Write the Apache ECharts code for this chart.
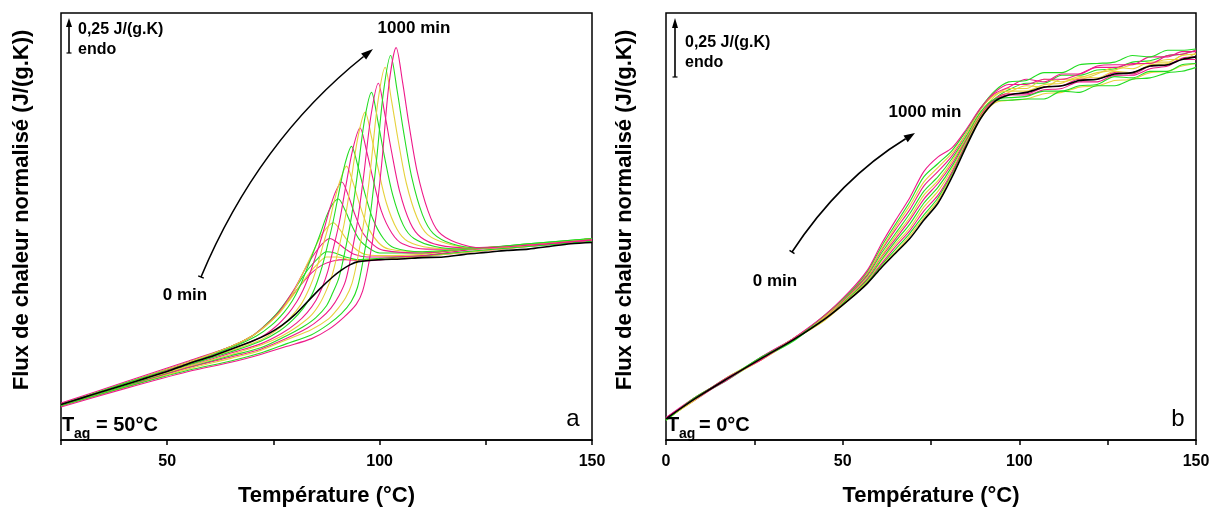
<!DOCTYPE html>
<html><head><meta charset="utf-8">
<script src="https://cdn.jsdelivr.net/npm/echarts@6/dist/echarts.min.js"></script>
<style>html,body{margin:0;padding:0;background:#fff}#c{width:1218px;height:512px}</style>
</head><body><div id="c"></div>
<script>
// ---------- DATA (panel a : Tag = 50°C) ----------
const leftBlack = [[25,.27],[30,.32],[35,.37],[40,.42],[45,.47],[50,.52],[55,.58],[60,.63],[65,.69],[70,.75],[74,.81],[77,.87],[80,.95],[83,1.05],[86,1.15],[89,1.24],[91,1.29],[93,1.33],[95,1.355],[100,1.37],[105,1.375],[110,1.385],[115,1.39],[120,1.41],[125,1.425],[130,1.44],[135,1.45],[140,1.47],[145,1.49],[150,1.50]];
const leftC1 = [[25,.28],[40,.44],[55,.60],[65,.71],[70,.79],[73.5,.88],[76.5,.98],[79,1.08],[81.5,1.18],[84,1.27],[86.5,1.33],[89,1.36],[92,1.37],[96,1.36],[105,1.38],[115,1.41],[125,1.44],[135,1.47],[150,1.51]];
const leftC2 = [[25,.27],[40,.43],[55,.59],[65,.71],[70,.79],[73,.86],[76,.95],[78.5,1.05],[81,1.16],[83.5,1.27],[85.5,1.34],[87.5,1.39],[90,1.39],[93,1.37],[97,1.37],[105,1.38],[115,1.41],[125,1.44],[135,1.47],[150,1.52]];
const leftC3 = [[25,.27],[40,.43],[55,.59],[65,.71],[70,.79],[73,.87],[75.5,.95],[77.5,1.03],[79.5,1.12],[81.5,1.22],[83.5,1.31],[85.5,1.38],[87.5,1.43],[89.5,1.42],[92,1.39],[95,1.37],[100,1.38],[110,1.40],[120,1.43],[135,1.47],[150,1.51]];
const leftC4 = [[25,.27],[40,.43],[55,.59],[65,.71],[70,.79],[73.5,.88],[76,.96],[78,1.05],[80,1.15],[81.5,1.24],[83,1.33],[84.8,1.42],[86.5,1.49],[88.3,1.53],[90,1.50],[92,1.45],[94,1.41],[97,1.39],[100,1.39],[110,1.40],[120,1.44],[135,1.48],[150,1.52]];
const leftC5 = [[25,.27],[40,.43],[55,.59],[65,.71],[70.5,.80],[74,.89],[76.5,.97],[78.5,1.06],[80,1.14],[81.5,1.24],[83,1.34],[84.5,1.44],[86,1.54],[87.5,1.61],[89.1,1.65],[90.6,1.60],[92.1,1.53],[94,1.46],[96.5,1.41],[100,1.40],[110,1.41],[120,1.45],[135,1.48],[150,1.52]];
const leftC6 = [[25,.27],[40,.43],[55,.58],[65,.70],[71,.79],[74.5,.87],[77.5,.97],[79.5,1.06],[81,1.15],[82.3,1.25],[83.5,1.35],[84.8,1.46],[86.2,1.58],[87.5,1.70],[88.9,1.79],[90.3,1.83],[91.8,1.75],[93.3,1.64],[95.3,1.52],[97.8,1.45],[100,1.42],[110,1.42],[120,1.45],[135,1.48],[150,1.53]];
const leftC7 = [[25,.27],[40,.42],[55,.58],[65,.69],[72,.78],[75.5,.86],[78.5,.96],[80.5,1.05],[82,1.14],[83.3,1.24],[84.5,1.35],[85.7,1.47],[87,1.61],[88.3,1.76],[89.7,1.89],[91.1,1.96],[92.6,1.86],[94.1,1.72],[96.1,1.57],[98.6,1.48],[101,1.44],[110,1.42],[120,1.45],[135,1.48],[150,1.52]];
const leftC8 = [[25,.27],[40,.42],[55,.57],[65,.68],[72,.76],[76,.84],[79,.93],[81.5,1.03],[83,1.12],[84.3,1.22],[85.5,1.34],[86.6,1.47],[88,1.63],[89.3,1.81],[90.8,1.98],[92.2,2.08],[93.7,1.96],[95.2,1.80],[97.2,1.62],[99.7,1.50],[102.2,1.45],[110,1.43],[120,1.45],[135,1.48],[150,1.53]];
const leftC9 = [[25,.27],[40,.42],[55,.57],[65,.67],[72,.75],[76.5,.83],[79.5,.91],[82,1.0],[84,1.10],[85.3,1.20],[86.5,1.32],[87.6,1.46],[89,1.65],[90.3,1.86],[91.8,2.09],[93.4,2.23],[94.9,2.08],[96.4,1.89],[98.4,1.68],[100.9,1.53],[103.4,1.46],[110,1.43],[120,1.45],[135,1.48],[150,1.52]];
const leftC10 = [[25,.27],[40,.41],[55,.56],[65,.66],[72,.73],[77,.81],[80.5,.89],[83,.97],[85,1.06],[86.5,1.16],[87.8,1.28],[89,1.44],[90.5,1.65],[92,1.92],[93.7,2.21],[95.4,2.37],[96.9,2.20],[98.4,1.99],[100.4,1.74],[102.9,1.57],[105.4,1.49],[111,1.45],[120,1.45],[135,1.48],[150,1.53]];
const leftC11 = [[25,.26],[40,.41],[55,.56],[65,.65],[72,.72],[77,.79],[81,.87],[84,.95],[86,1.04],[87.5,1.14],[88.9,1.26],[90.2,1.43],[91.7,1.65],[93.2,1.95],[94.9,2.30],[96.6,2.49],[98.1,2.30],[99.6,2.07],[101.6,1.80],[104.1,1.60],[106.6,1.51],[112,1.46],[120,1.45],[135,1.48],[150,1.52]];
const leftC12 = [[25,.26],[40,.41],[55,.55],[65,.64],[72,.70],[78,.79],[82,.86],[85,.93],[87.5,1.02],[89,1.12],[90.4,1.23],[91.7,1.41],[93.2,1.66],[94.7,2.00],[96.4,2.42],[98.1,2.64],[99.6,2.42],[101.1,2.16],[103.1,1.86],[105.6,1.63],[108.1,1.53],[113,1.47],[120,1.45],[135,1.49],[150,1.53]];
const leftC13 = [[25,.26],[40,.40],[55,.55],[65,.63],[72,.69],[78,.77],[83,.85],[86,.92],[88.5,1.0],[90.5,1.10],[92,1.21],[93.3,1.40],[94.8,1.66],[96.3,2.02],[98,2.47],[99.7,2.71],[101.2,2.48],[102.7,2.21],[104.7,1.89],[107.2,1.65],[109.7,1.54],[114,1.48],[121,1.46],[135,1.48],[150,1.52]];
const leftC14 = [[25,.26],[40,.40],[55,.54],[65,.62],[72,.68],[78,.76],[84,.84],[88,.92],[90,.99],[92,1.08],[93.5,1.19],[94.9,1.39],[96.4,1.68],[97.9,2.07],[99.6,2.57],[101.3,2.83],[102.8,2.58],[104.3,2.29],[106.3,1.95],[108.8,1.69],[111.3,1.56],[116,1.49],[122,1.46],[135,1.48],[150,1.53]];
const leftC15 = [[25,.26],[40,.40],[55,.53],[65,.60],[72,.66],[78,.73],[84,.80],[88,.88],[91,.96],[93.3,1.05],[94.8,1.16],[96.2,1.38],[97.7,1.68],[99.2,2.10],[100.9,2.64],[102.6,2.92],[104.1,2.66],[105.6,2.35],[107.6,1.99],[110.1,1.71],[112.6,1.57],[117,1.49],[123,1.46],[135,1.49],[150,1.53]];
const leftC16 = [[25,.25],[40,.39],[55,.52],[65,.59],[72,.65],[78,.71],[84,.77],[88,.84],[91.5,.93],[94.5,1.03],[96,1.13],[97.5,1.35],[99,1.66],[100.5,2.10],[102.2,2.70],[103.9,2.98],[105.4,2.72],[106.9,2.40],[108.9,2.03],[111.4,1.74],[113.9,1.58],[118,1.50],[124,1.46],[135,1.48],[150,1.52]];
const leftAged = [leftC1,leftC2,leftC3,leftC4,leftC5,leftC6,leftC7,leftC8,leftC9,leftC10,leftC11,leftC12,leftC13,leftC14,leftC15,leftC16];
const leftColorKeys = ['P','Y','G','P','Y','G','P','Y','G','P','Y','G','P','Y','G','P'];

// ---------- DATA (panel b : Tag = 0°C) ----------
const rightTemps = [0,8,17,27,36,45,52,57,61,65,69,73,77,81,85,89,93,97,102,107,112,117,122,127,132,137,142,146,150];
const rightBlack = [.16,.31,.46,.62,.76,.92,1.07,1.19,1.31,1.42,1.53,1.67,1.80,2.00,2.23,2.44,2.57,2.62,2.64,2.68,2.69,2.73,2.74,2.78,2.79,2.84,2.85,2.89,2.91];
const rightC1 = [.16,.30,.46,.61,.76,.91,1.07,1.19,1.32,1.43,1.55,1.69,1.82,2.02,2.24,2.44,2.56,2.58,2.59,2.63,2.64,2.68,2.69,2.73,2.74,2.79,2.80,2.84,2.86];
const rightC2 = [.17,.31,.46,.62,.76,.92,1.08,1.20,1.33,1.45,1.57,1.71,1.84,2.03,2.25,2.45,2.59,2.66,2.71,2.71,2.77,2.77,2.81,2.82,2.87,2.88,2.92,2.93,2.96];
const rightC3 = [.15,.32,.46,.63,.77,.92,1.08,1.21,1.34,1.47,1.59,1.74,1.86,2.04,2.26,2.46,2.58,2.62,2.62,2.66,2.67,2.72,2.72,2.77,2.77,2.82,2.84,2.89,2.89];
const rightC4 = [.15,.31,.47,.61,.76,.93,1.08,1.21,1.36,1.49,1.61,1.77,1.89,2.06,2.27,2.46,2.59,2.64,2.69,2.68,2.74,2.74,2.78,2.83,2.82,2.87,2.87,2.92,2.93];
const rightC5 = [.16,.31,.45,.62,.77,.93,1.09,1.22,1.37,1.51,1.64,1.80,1.92,2.08,2.28,2.47,2.58,2.58,2.59,2.59,2.65,2.64,2.69,2.69,2.74,2.75,2.79,2.80,2.83];
const rightC6 = [.17,.30,.46,.62,.76,.93,1.10,1.23,1.39,1.53,1.67,1.83,1.95,2.10,2.29,2.47,2.59,2.63,2.63,2.68,2.69,2.74,2.74,2.79,2.78,2.84,2.85,2.90,2.91];
const rightC7 = [.16,.32,.46,.61,.77,.93,1.10,1.24,1.40,1.55,1.69,1.86,1.97,2.12,2.30,2.48,2.61,2.67,2.67,2.74,2.72,2.75,2.79,2.81,2.85,2.86,2.89,2.89,2.94];
const rightC8 = [.15,.31,.47,.62,.75,.94,1.11,1.25,1.42,1.57,1.72,1.89,2.00,2.14,2.31,2.49,2.59,2.60,2.61,2.65,2.65,2.69,2.70,2.76,2.75,2.80,2.80,2.85,2.86];
const rightC9 = [.17,.32,.45,.63,.77,.94,1.11,1.26,1.44,1.60,1.75,1.93,2.04,2.16,2.33,2.51,2.63,2.68,2.74,2.72,2.78,2.78,2.84,2.85,2.85,2.91,2.91,2.95,2.95];
const rightC10 = [.16,.30,.47,.62,.77,.94,1.12,1.27,1.45,1.62,1.78,1.96,2.07,2.18,2.33,2.51,2.62,2.65,2.65,2.70,2.71,2.76,2.75,2.80,2.79,2.85,2.86,2.92,2.93];
const rightC11 = [.15,.32,.46,.63,.76,.95,1.12,1.28,1.47,1.64,1.81,2.00,2.10,2.20,2.35,2.52,2.65,2.72,2.73,2.79,2.79,2.85,2.86,2.87,2.92,2.91,2.96,2.96,2.97];
const rightC12 = [.17,.31,.47,.61,.77,.95,1.13,1.29,1.49,1.67,1.84,2.04,2.15,2.22,2.36,2.52,2.64,2.70,2.70,2.74,2.74,2.78,2.83,2.83,2.86,2.86,2.92,2.93,2.96];
const rightAged = [rightC1,rightC2,rightC3,rightC4,rightC5,rightC6,rightC7,rightC8,rightC9,rightC10,rightC11,rightC12];
const rightColorKeys = ['Y','G','P','Y','G','P','Y','G','P','Y','G','P'];

const xTickLabelsA = [50,100,150];
const xTickLabelsB = [0,50,100,150];

// ---------- STYLE ----------
const FONT = '"Liberation Sans", Arial, Helvetica, sans-serif';
const COLORS = {P:'#ee1a8a', G:'#22dd22', Y:'#e6d13c'};

const chart = echarts.init(document.getElementById('c'), null, {renderer:'canvas'});

function xAxisCfg(gi, min, labels){
  return {
    gridIndex: gi, type:'value', min: min, max:150, interval:25,
    axisLine:{show:true, onZero:false, lineStyle:{color:'#000', width:1.5}},
    axisTick:{show:true, length:5, lineStyle:{color:'#000', width:1.5}},
    axisLabel:{margin:14, color:'#000', fontSize:16, fontWeight:'bold', fontFamily:FONT,
      formatter: v => labels.indexOf(v) >= 0 ? String(v) : ''},
    splitLine:{show:false},
    name:'Température (°C)', nameLocation:'middle', nameGap:45,
    nameTextStyle:{color:'#000', fontSize:22, fontWeight:'bold', fontFamily:FONT}
  };
}
function yAxisCfg(gi){
  return {gridIndex:gi, type:'value', min:0, max:3.243,
    axisLine:{show:false}, axisTick:{show:false}, axisLabel:{show:false}, splitLine:{show:false}};
}

const series = [];
leftAged.forEach((d,i)=>{
  series.push({type:'line', xAxisIndex:0, yAxisIndex:0, data:d, symbol:'none', showSymbol:false,
    smooth:0.3, silent:true, z:2,
    lineStyle:{width:1.1, color:COLORS[leftColorKeys[i]]}, itemStyle:{color:COLORS[leftColorKeys[i]]}});
});
series.push({type:'line', xAxisIndex:0, yAxisIndex:0, data:leftBlack, symbol:'none', showSymbol:false,
  smooth:0.3, silent:true, z:3, lineStyle:{width:1.6, color:'#000'}});

rightAged.forEach((vals,i)=>{
  const d = rightTemps.map((t,j)=>[t, vals[j]]);
  series.push({type:'line', xAxisIndex:1, yAxisIndex:1, data:d, symbol:'none', showSymbol:false,
    smooth:0.3, silent:true, z:2,
    lineStyle:{width:1.1, color:COLORS[rightColorKeys[i]]}, itemStyle:{color:COLORS[rightColorKeys[i]]}});
});
series.push({type:'line', xAxisIndex:1, yAxisIndex:1, data:rightTemps.map((t,j)=>[t, rightBlack[j]]),
  symbol:'none', showSymbol:false, smooth:0.3, silent:true, z:3,
  lineStyle:{width:1.6, color:'#000'}});

function txt(x, y, text, font, align){
  return {type:'text', x:x, y:y, silent:true, z:100,
    style:{text:text, font:font, fill:'#000', textAlign:align||'left', textVerticalAlign:'middle',
      align:align||'left', verticalAlign:'middle'}};
}
function line(x1,y1,x2,y2,w){
  return {type:'line', silent:true, z:100, shape:{x1,y1,x2,y2}, style:{stroke:'#000', lineWidth:w||1.5}};
}
function poly(pts){
  return {type:'polygon', silent:true, z:100, shape:{points:pts}, style:{fill:'#000'}};
}
function curve(x1,y1,cx,cy,x2,y2){
  return {type:'bezierCurve', silent:true, z:100, shape:{x1,y1,x2,y2,cpx1:cx,cpy1:cy},
    style:{stroke:'#000', lineWidth:1.6, fill:'none'}};
}
const B17 = 'bold 17px ' + FONT;
const B16 = 'bold 16px ' + FONT;
const B20 = 'bold 20px ' + FONT;
const B14 = 'bold 14px ' + FONT;
const B22 = 'bold 22px ' + FONT;
const N24 = '24px ' + FONT;

const graphic = [
  {type:'text', x:22, y:210, rotation:Math.PI/2, silent:true,
    style:{text:'Flux de chaleur normalisé (J/(g.K))', font:B22, fill:'#000', textAlign:'center', textVerticalAlign:'middle', align:'center', verticalAlign:'middle'}},
  {type:'text', x:625, y:210, rotation:Math.PI/2, silent:true,
    style:{text:'Flux de chaleur normalisé (J/(g.K))', font:B22, fill:'#000', textAlign:'center', textVerticalAlign:'middle', align:'center', verticalAlign:'middle'}},
  line(69,26,69,53,1.6), poly([[69,18],[66,27],[72,27]]), line(66.5,53,71.5,53,1.2),
  txt(78,30,'0,25 J/(g.K)',B16), txt(78,50,'endo',B16),
  curve(201,277,258,141,363.6,56.5), poly([[373,49],[366.1,59.6],[361.1,53.4]]),
  line(198.2,275.8,203.8,278.2,1.4),
  txt(414,28,'1000 min',B17,'center'), txt(185,295,'0 min',B17,'center'),
  txt(62,425,'T',B20), txt(74,434,'ag',B14), txt(96,425,'= 50°C',B20),
  txt(573,419,'a',N24,'center'),
  line(675,27,675,77,1.6), poly([[675,18],[672,28],[678,28]]), line(672.5,77,677.5,77,1.2),
  txt(685,43,'0,25 J/(g.K)',B16), txt(685,63,'endo',B16),
  curve(792,252,840,179,905.6,138.8), poly([[915,133],[907.7,142.2],[903.5,135.4]]),
  line(789.5,250.3,794.5,253.7,1.4),
  txt(925,112,'1000 min',B17,'center'), txt(775,281,'0 min',B17,'center'),
  txt(667,425,'T',B20), txt(679,434,'ag',B14), txt(699,425,'= 0°C',B20),
  txt(1178,419,'b',N24,'center')
];

chart.setOption({
  animation:false,
  backgroundColor:'#fff',
  grid:[
    {left:61, top:13, width:531, height:428, show:true, borderColor:'#000', borderWidth:1.5, backgroundColor:'transparent'},
    {left:666, top:13, width:530, height:428, show:true, borderColor:'#000', borderWidth:1.5, backgroundColor:'transparent'}
  ],
  xAxis:[xAxisCfg(0,25,xTickLabelsA), xAxisCfg(1,0,xTickLabelsB)],
  yAxis:[yAxisCfg(0), yAxisCfg(1)],
  series: series,
  graphic: graphic
});
</script></body></html>
